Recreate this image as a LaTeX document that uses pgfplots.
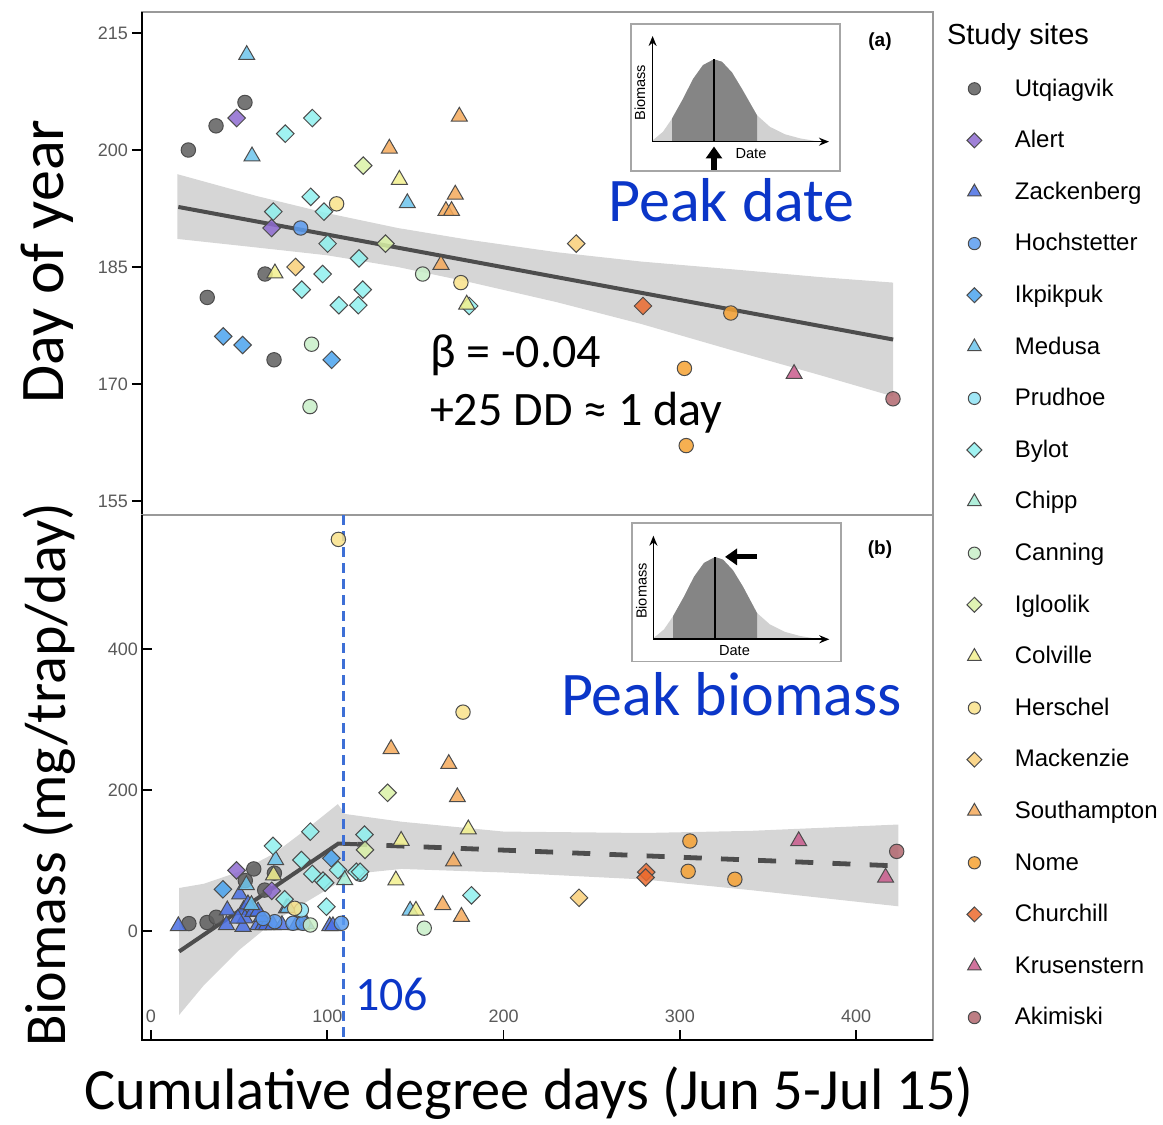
\documentclass[border=0pt]{standalone}
\usepackage{fontspec}
\setmainfont{Carlito}
\newfontfamily\arial{Liberation Sans}
\usepackage{pgfplots}
\pgfplotsset{compat=1.18}
\usetikzlibrary{arrows.meta}

\definecolor{cUtq}{HTML}{5E5E5E}
\definecolor{cAle}{HTML}{8E6BD0}
\definecolor{cZac}{HTML}{4A6FE3}
\definecolor{cHoc}{HTML}{5B9CF0}
\definecolor{cIkp}{HTML}{4AA3EE}
\definecolor{cMed}{HTML}{6CC4EC}
\definecolor{cPru}{HTML}{8FE3F4}
\definecolor{cByl}{HTML}{8FF0EE}
\definecolor{cChi}{HTML}{A2EBD3}
\definecolor{cCan}{HTML}{C8EEC8}
\definecolor{cIgl}{HTML}{DAF2A6}
\definecolor{cCol}{HTML}{F2F08E}
\definecolor{cHer}{HTML}{F9E28A}
\definecolor{cMac}{HTML}{F9CF78}
\definecolor{cSou}{HTML}{F5A95A}
\definecolor{cNom}{HTML}{F6A233}
\definecolor{cChu}{HTML}{EB6A2E}
\definecolor{cKru}{HTML}{C95B8C}
\definecolor{cAki}{HTML}{B2676F}
\definecolor{txtblue}{HTML}{0B36C8}
\definecolor{vblue}{HTML}{3D6FD6}
\definecolor{band}{HTML}{D6D6D6}
\definecolor{fitc}{HTML}{4D4D4D}

\tikzset{
  site/.style={only marks, draw=black!70, line width=0.5pt, fill opacity=0.85},
  circ/.style={site, mark=*, mark size=3.6pt},
  diam/.style={site, mark=square*, mark size=3.1pt, mark options={rotate=45}},
  tri/.style={site, mark=triangle*, mark size=4.6pt},
  sUtq/.style={circ, fill=cUtq},
  sAle/.style={diam, fill=cAle},
  sZac/.style={tri, fill=cZac},
  sHoc/.style={circ, fill=cHoc},
  sIkp/.style={diam, fill=cIkp},
  sMed/.style={tri, fill=cMed},
  sPru/.style={circ, fill=cPru},
  sByl/.style={diam, fill=cByl},
  sChi/.style={tri, fill=cChi},
  sCan/.style={circ, fill=cCan},
  sIgl/.style={diam, fill=cIgl},
  sCol/.style={tri, fill=cCol},
  sHer/.style={circ, fill=cHer},
  sMac/.style={diam, fill=cMac},
  sSou/.style={tri, fill=cSou},
  sNom/.style={circ, fill=cNom},
  sChu/.style={diam, fill=cChu},
  sKru/.style={tri, fill=cKru},
  sAki/.style={circ, fill=cAki},
}

\pgfplotsset{
  panel/.style={
    anchor=south west, scale only axis, width=395.5pt,
    xmin=-5.1, xmax=443.6,
    ytick pos=left, major tick length=5pt,
    tick style={black, line width=0.8pt},
    axis line style={draw=black!40, line width=0.6pt},
    ticklabel style={font=\arial\fontsize{9}{10}\selectfont, text=black!65},
    yticklabel style={xshift=1.5pt},
    /pgf/number format/assume math mode=true,
  },
  inset/.style={
    anchor=south west, scale only axis, clip=false,
    xmin=0, ymin=0, xtick=\empty, ytick=\empty,
    axis line style={draw=black!35, line width=0.6pt},
    axis background/.style={fill=white},
  },
}

\begin{document}
\begin{tikzpicture}
\useasboundingbox (0,0) rectangle (581.5pt,562.5pt);

% ---------------- (a) peak date ----------------
\begin{axis}[panel,
  at={(71pt,305pt)}, height=251.5pt,
  ymin=153.2, ymax=217.7,
  xtick=\empty, ytick={155,170,185,200,215},
  tick align=outside,
  extra description/.code={\draw[black, line width=1.1pt] (rel axis cs:0,0) -- (rel axis cs:0,1);},
  legend style={at={(1.0424,0.868)}, anchor=north west, draw=none, fill=none, inner sep=0pt,
    font=\arial\fontsize{12}{14}\selectfont, row sep=14.2pt,
    nodes={inner sep=0pt, text height=8.6pt, text depth=3pt},
    /tikz/every odd column/.append style={column sep=16.5pt}},
  legend cell align=left,
  legend image code/.code={\draw[#1, /tikz/every mark/.append style={scale=0.85}] plot coordinates {(0.3cm,0.8pt)};},
]
\addplot[fill=band, draw=none, forget plot] coordinates {
 (15,196.9) (60,194.1) (100,191.9) (140,190.0) (180,188.5) (230,186.9) (278,185.7) (330,184.7) (380,183.7) (421,183.0)
 (421,168.4) (380,171.1) (330,174.3) (278,177.7) (230,180.5) (180,183.1) (140,185.0) (100,186.5) (60,187.5) (15,188.6)} -- cycle;
\addplot[fitc, line width=2pt, forget plot] coordinates {(15.5,192.7) (421,175.7)};

\addplot[sUtq, forget plot] coordinates {(21.2,200) (36.9,203.1) (53.3,206.1) (64.7,184.1) (31.9,181.1) (69.8,173.1)};
\addplot[sAle, forget plot] coordinates {(48.6,204.1) (68.4,190.0)};
\addplot[sHoc, forget plot] coordinates {(84.9,190.0)};
\addplot[sIkp, forget plot] coordinates {(41,176.1) (52,175) (102.5,173.1)};
\addplot[sMed, forget plot] coordinates {(54.3,212.2) (57.3,199.2) (145.4,193.2)};
\addplot[sByl, forget plot] coordinates {(91.5,204.1) (76.2,202.1) (90.6,194) (69.4,192.1) (98.1,192.1) (100.2,188) (118,186.1)
 (97.4,184.1) (85.5,182.1) (120.1,182.1) (106.6,180.1) (117.6,180.1) (180.5,180)};
\addplot[sCan, forget plot] coordinates {(154.1,184.1) (91.1,175.1) (90.2,167.1)};
\addplot[sIgl, forget plot] coordinates {(120.4,198) (133,188)};
\addplot[sCol, forget plot] coordinates {(140.9,196.2) (70.3,184.2) (179.1,180.2)};
\addplot[sHer, forget plot] coordinates {(105.3,193.1) (175.8,183)};
\addplot[sMac, forget plot] coordinates {(82,185) (241.2,188)};
\addplot[sSou, forget plot] coordinates {(135.2,200.2) (174.9,204.3) (172.6,194.3) (167.3,192.2) (170.5,192.2) (164.5,185.3)};
\addplot[sNom, forget plot] coordinates {(328.9,179.1) (302.6,172) (303.6,162.1)};
\addplot[sChu, forget plot] coordinates {(279.1,180)};
\addplot[sKru, forget plot] coordinates {(364.8,171.3)};
\addplot[sAki, forget plot] coordinates {(420.9,168.1)};

\addlegendimage{sUtq}\addlegendentry{Utqiagvik}
\addlegendimage{sAle}\addlegendentry{Alert}
\addlegendimage{sZac}\addlegendentry{Zackenberg}
\addlegendimage{sHoc}\addlegendentry{Hochstetter}
\addlegendimage{sIkp}\addlegendentry{Ikpikpuk}
\addlegendimage{sMed}\addlegendentry{Medusa}
\addlegendimage{sPru}\addlegendentry{Prudhoe}
\addlegendimage{sByl}\addlegendentry{Bylot}
\addlegendimage{sChi}\addlegendentry{Chipp}
\addlegendimage{sCan}\addlegendentry{Canning}
\addlegendimage{sIgl}\addlegendentry{Igloolik}
\addlegendimage{sCol}\addlegendentry{Colville}
\addlegendimage{sHer}\addlegendentry{Herschel}
\addlegendimage{sMac}\addlegendentry{Mackenzie}
\addlegendimage{sSou}\addlegendentry{Southampton}
\addlegendimage{sNom}\addlegendentry{Nome}
\addlegendimage{sChu}\addlegendentry{Churchill}
\addlegendimage{sKru}\addlegendentry{Krusenstern}
\addlegendimage{sAki}\addlegendentry{Akimiski}
\end{axis}

% ---------------- (b) peak biomass ----------------
\begin{axis}[panel,
  at={(71pt,42.5pt)}, height=262.5pt,
  ymin=-154.6, ymax=590,
  xtick={0,100,200,300,400}, ytick={0,200,400},
  tick align=inside, xtick pos=bottom,
  xticklabel style={anchor=south, yshift=5pt},
  extra description/.code={\draw[black, line width=1.1pt] (rel axis cs:0,1) -- (rel axis cs:0,0) -- (rel axis cs:1,0);},
]
\addplot[fill=band, draw=none] coordinates {
 (16,61) (30,67) (50,84) (70,110) (90,148) (106,180) (110,166) (142,155) (200,141) (280,139) (340,142) (424,151)
 (424,35) (340,58) (280,73) (200,83) (142,88) (111,80) (106,68) (90,44) (70,14) (50,-27) (30,-77) (16,-119)} -- cycle;
\addplot[fitc, line width=2pt] coordinates {(16,-29) (106.3,124) (117,123)};
\addplot[fitc, line width=2.4pt, dash pattern=on 9pt off 9.6pt, dash phase=4pt] coordinates {(117,123) (421,92.5)};

\addplot[sUtq] coordinates {(21.5,10.5) (31.8,12) (37,19.5) (53.5,71.5) (58.3,88) (64.5,58) (70,82)};
\addplot[sAle] coordinates {(48.5,86) (68.5,57)};
\addplot[sZac] coordinates {(15.5,7) (42.8,8.5) (43.3,29.5) (52.2,6.1) (52.5,29.8) (53.3,18) (57.9,27.4) (50.3,52)
 (60.7,8.5) (63.5,8.5) (65.5,8.5) (69.2,8.5) (74.3,8.5) (76.8,32.2) (82.5,8.5) (85.3,8.5) (88.2,10) (101.4,7)
 (103.2,7) (62.6,20) (49.3,17.7) (55,38) (60.7,27.8)};
\addplot[sHoc] coordinates {(70.2,13.2) (80.5,10.9) (86.2,10.9) (108,10.9) (63.6,17.7)};
\addplot[sIkp] coordinates {(40.8,59.1) (102.3,103.1)};
\addplot[sMed] coordinates {(54.1,65.2) (57,36.9) (70.7,100.7) (147,28.9) (77.8,33)};
\addplot[sPru] coordinates {(85.3,29.8) (118.8,80.5)};
\addplot[sByl] coordinates {(69.2,120.6) (85.3,100.7) (90.4,140.9) (91.5,80.9) (97.6,71.4) (98.8,68.4) (106.1,86.5)
 (116.5,84.1) (75.8,45) (99.5,34.5) (121.1,136.7) (118.6,84) (181.8,50.6)};
\addplot[sChi] coordinates {(109.9,72.3)};
\addplot[sCan] coordinates {(90.4,8.5) (155,4)};
\addplot[sIgl] coordinates {(134.2,196) (121.4,115)};
\addplot[sCol] coordinates {(69.5,79) (141.9,128.1) (138.9,71.9) (150.3,28.9) (180,144.3)};
\addplot[sHer] coordinates {(106.3,555.4) (177,310.4) (81.5,32.2)};
\addplot[sMac] coordinates {(242.8,47.1)};
\addplot[sSou] coordinates {(136.2,258.2) (168.9,237) (173.8,189.9) (171.6,98.7) (165.5,37) (176.1,20.3)};
\addplot[sNom] coordinates {(305.7,127.6) (304.7,84.6) (331.2,73.4)};
\addplot[sChu] coordinates {(280.9,83.5) (280.6,75.9)};
\addplot[sKru] coordinates {(367.4,127.6) (416.7,75.9)};
\addplot[sAki] coordinates {(423,112.9)};

\addplot[vblue, line width=1.6pt, dash pattern=on 5pt off 3pt] coordinates {(109,-150) (109,590)};
\end{axis}

% ---------------- inset (a) ----------------
\begin{axis}[inset, at={(315.5pt,477pt)}, width=104.5pt, height=73.5pt, xmax=209, ymax=147]
\addplot[fill=black!18, draw=none] coordinates {(22,29.3) (22,30.9) (32,39.2) (41,52.4) (52,72.1) (62,91.9) (72,105.9) (83,111.7)
 (91,109.2) (101,98.5) (111,82.0) (126,55.7) (139,44.1) (154,36.7) (169,32.6) (184,30.1) (195,29.5) (195,29.3)} -- cycle;
\addplot[fill=black!48, draw=none] coordinates {(41,29.3) (41,52.4) (52,72.1) (62,91.9) (72,105.9) (83,111.7)
 (91,109.2) (101,98.5) (111,82.0) (126,55.7) (126,29.3)} -- cycle;
\addplot[black, line width=0.7pt] coordinates {(83,29.3) (83,111.7)};
\addplot[black, line width=0.8pt, -{Stealth[length=5pt,width=4pt]}] coordinates {(21.6,29.3) (21.6,135)};
\addplot[black, line width=0.8pt, -{Stealth[length=5pt,width=4pt]}] coordinates {(21.6,29.3) (198,29.3)};
\addplot[black, line width=2.6pt, -{Triangle[length=6pt,width=8pt]}] coordinates {(83,1) (83,24.5)};
\node[rotate=90, font=\arial\fontsize{7.3}{8}\selectfont] at (axis cs:8.8,78.3) {Biomass};
\node[font=\arial\fontsize{7.3}{8}\selectfont] at (axis cs:120,17.7) {Date};
\end{axis}

% ---------------- inset (b) ----------------
\begin{axis}[inset, at={(316pt,231.75pt)}, width=104.5pt, height=69.25pt, xmax=209, ymax=138.5]
\addplot[fill=black!18, draw=none] coordinates {(22,22.2) (22,23.8) (32,32.1) (41,45.2) (52,64.9) (62,84.7) (72,98.6) (83,104.4)
 (91,101.9) (101,91.2) (111,74.8) (125,48.5) (138,37.0) (153,29.6) (168,25.5) (183,23.0) (195,22.4) (195,22.2)} -- cycle;
\addplot[fill=black!48, draw=none] coordinates {(41,22.2) (41,45.2) (52,64.9) (62,84.7) (72,98.6) (83,104.4)
 (91,101.9) (101,91.2) (111,74.8) (125,48.5) (125,22.2)} -- cycle;
\addplot[black, line width=0.7pt] coordinates {(83,22.2) (83,104.4)};
\addplot[black, line width=0.8pt, -{Stealth[length=5pt,width=4pt]}] coordinates {(21.4,22.2) (21.4,125.8)};
\addplot[black, line width=0.8pt, -{Stealth[length=5pt,width=4pt]}] coordinates {(21.4,22.2) (197.3,22.2)};
\addplot[black, line width=2.6pt, -{Triangle[length=6pt,width=8pt]}] coordinates {(125,104.6) (93,104.6)};
\node[rotate=90, font=\arial\fontsize{7.3}{8}\selectfont] at (axis cs:9.4,70.5) {Biomass};
\node[font=\arial\fontsize{7.3}{8}\selectfont] at (axis cs:102.5,10.8) {Date};
\end{axis}

% ---------------- texts ----------------
\node[anchor=base, rotate=90, font=\fontsize{31}{35}\selectfont] at (31.5pt,431.75pt) {Day of year};
\node[anchor=base, rotate=90, font=\fontsize{29}{34}\selectfont] at (32.5pt,175pt) {Biomass (mg/trap/day)};
\node[anchor=base, font=\fontsize{29.2}{34}\selectfont] at (264.5pt,7.5pt) {Cumulative degree days (Jun 5-Jul 15)};
\node[anchor=base, text=txtblue, font=\fontsize{31}{36}\selectfont] at (365.75pt,451.7pt) {Peak date};
\node[anchor=base, text=txtblue, font=\fontsize{31}{36}\selectfont] at (365.75pt,204.5pt) {Peak biomass};
\node[anchor=base west, text=txtblue, font=\fontsize{24}{28}\selectfont] at (174pt,57.1pt) {106};
\node[anchor=base west, font=\fontsize{24}{28}\selectfont] at (211.5pt,378.5pt) {β = -0.04};
\node[anchor=base west, font=\fontsize{24}{28}\selectfont] at (211.5pt,349.5pt) {+25 DD ≈ 1 day};
\node[font=\arial\bfseries\fontsize{9.5}{11}\selectfont] at (440pt,541.5pt) {(a)};
\node[font=\arial\bfseries\fontsize{9.5}{11}\selectfont] at (440pt,287.5pt) {(b)};
\node[anchor=west, font=\arial\fontsize{14.5}{16}\selectfont] at (470pt,544pt) {Study sites};
\end{tikzpicture}
\end{document}
